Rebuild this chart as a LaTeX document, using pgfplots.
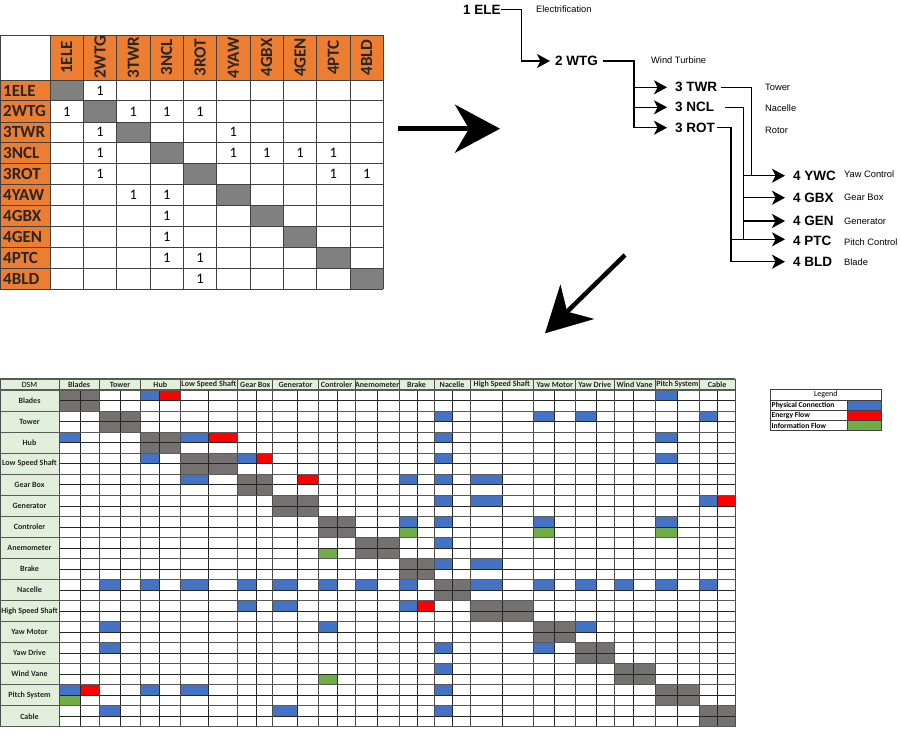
\documentclass[border=0pt]{standalone}
\usepackage{pgfplots}
\pgfplotsset{compat=1.18}
\usepackage{fontspec}
\setmainfont{Carlito}
\newfontfamily\arialf{Liberation Sans}
\usetikzlibrary{arrows.meta}
\definecolor{dblue}{HTML}{4472C4}
\definecolor{dred}{HTML}{FF0000}
\definecolor{dgreen}{HTML}{70AD47}
\definecolor{dgray}{HTML}{767171}
\definecolor{mgray}{HTML}{808080}
\definecolor{orng}{HTML}{ED7D31}
\definecolor{lgreen}{HTML}{E2EFDA}
\newcommand{\fs}[1]{\fontsize{#1bp}{#1bp}\selectfont}
\newcommand{\cell}[5]{\addplot[draw=none,fill=#1,forget plot] coordinates {(#2,#4) (#3,#4) (#3,#5) (#2,#5)};}
\tikzset{tarr/.style={line width=1.3bp, -{Stealth[length=13bp,width=14bp,inset=3.5bp]}},
  tln/.style={line width=1.3bp},
  tbold/.style={anchor=west, inner sep=0pt, font=\arialf\bfseries\fs{13.5}},
  tlab/.style={anchor=west, inner sep=0pt, font=\arialf\fs{9.3}},
  bigarr/.style={line width=4.5bp, -{Stealth[length=45bp,width=48bp,inset=14bp]}}}
\begin{document}
\begin{tikzpicture}
\begin{axis}[name=main, scale only axis, width=900bp, height=736bp,
  xmin=0, xmax=900, ymin=0, ymax=736, y dir=reverse, hide axis, clip=false]

% ================= top-left matrix =================
\cell{orng}{50}{383.3}{35}{80}
\cell{orng}{0}{50}{80}{289.3}
\cell{mgray}{50}{83.3}{80}{100.9}
\cell{mgray}{83.3}{116.7}{100.9}{121.9}
\cell{mgray}{116.7}{150}{121.9}{142.8}
\cell{mgray}{150}{183.3}{142.8}{163.7}
\cell{mgray}{183.3}{216.7}{163.7}{184.7}
\cell{mgray}{216.7}{250}{184.7}{205.6}
\cell{mgray}{250}{283.3}{205.6}{226.5}
\cell{mgray}{283.3}{316.7}{226.5}{247.4}
\cell{mgray}{316.7}{350}{247.4}{268.4}
\cell{mgray}{350}{383.3}{268.4}{289.3}
\pgfplotsinvokeforeach{0.5,50,83.3,116.7,150,183.3,216.7,250,283.3,316.7,350,383.3}{
  \draw[black!75, line width=0.8bp] (#1,35) -- (#1,289.3);}
\pgfplotsinvokeforeach{35,80,100.9,121.9,142.8,163.7,184.7,205.6,226.5,247.4,268.4,289.3}{
  \draw[black!75, line width=0.8bp] (0.5,#1) -- (383.3,#1);}
\foreach \n/\x in {1ELE/66.7,2WTG/100,3TWR/133.3,3NCL/166.7,3ROT/200,4YAW/233.3,4GBX/266.7,4GEN/300,4PTC/333.3,4BLD/366.7}{
  \edef\tmp{\noexpand\node[rotate=90, font=\noexpand\bfseries\noexpand\fs{17}, text=black!85] at (\x,57.5) {\n};}\tmp}
\foreach \n/\y in {1ELE/90.5,2WTG/111.4,3TWR/132.3,3NCL/153.3,3ROT/174.2,4YAW/195.1,4GBX/216.1,4GEN/237,4PTC/257.9,4BLD/278.8}{
  \edef\tmp{\noexpand\node[anchor=west, inner sep=0pt, font=\noexpand\bfseries\noexpand\fs{17}, text=black!85] at (3,\y) {\n};}\tmp}
\foreach \x/\y in {100/90.5, 66.7/111.4,133.3/111.4,166.7/111.4,200/111.4, 100/132.3,233.3/132.3,
  100/153.3,233.3/153.3,266.7/153.3,300/153.3,333.3/153.3, 100/174.2,333.3/174.2,366.7/174.2,
  133.3/195.1,166.7/195.1, 166.7/216.1, 166.7/237, 166.7/257.9,200/257.9, 200/278.8}{
  \edef\tmp{\noexpand\node[font=\noexpand\fs{14.5}] at (\x,\y) {1};}\tmp}

% ================= big arrows =================
\draw[bigarr] (398,128.7) -- (500,128.7);
\draw[bigarr] (625,255) -- (545,333.3);

% ================= tree =================
\draw[tarr] (501,9.5) -- (521.7,9.5) -- (521.7,61) -- (550,61);
\draw[tln] (602.7,61) -- (634,61) -- (634,127.7);
\draw[tarr] (634,87.3) -- (667,87.3);
\draw[tarr] (634,107.3) -- (667,107.3);
\draw[tarr] (634,127.7) -- (667,127.7);
\draw[tln] (721,87.3) -- (751.7,87.3) -- (751.7,175.7);
\draw[tln] (725,107.3) -- (743.3,107.3) -- (743.3,239.3);
\draw[tln] (716.7,127.7) -- (731,127.7) -- (731,261.7);
\draw[tarr] (743.3,175.7) -- (785,175.7);
\draw[tarr] (743.3,197.7) -- (785,197.7);
\draw[tarr] (743.3,221) -- (785,221);
\draw[tarr] (731,239.3) -- (785,239.3);
\draw[tarr] (731,261.7) -- (785,261.7);
\node[tbold] at (463,9.5) {1 ELE};
\node[tbold] at (555,61) {2 WTG};
\node[tbold] at (675,87.3) {3 TWR};
\node[tbold] at (675,107.3) {3 NCL};
\node[tbold] at (675,127.7) {3 ROT};
\node[tbold] at (793,175.7) {4 YWC};
\node[tbold] at (793,197.7) {4 GBX};
\node[tbold] at (793,221) {4 GEN};
\node[tbold] at (793,240.5) {4 PTC};
\node[tbold] at (793,261.7) {4 BLD};
\node[tlab] at (536,9.5) {Electrification};
\node[tlab] at (651,60.5) {Wind Turbine};
\node[tlab] at (765,87.3) {Tower};
\node[tlab] at (765,108) {Nacelle};
\node[tlab] at (765,130) {Rotor};
\node[tlab] at (844,174) {Yaw Control};
\node[tlab] at (844,197) {Gear Box};
\node[tlab] at (844,221.5) {Generator};
\node[tlab] at (844,242) {Pitch Control};
\node[tlab] at (844,262) {Blade};

% ================= DSM =================
\cell{lgreen}{0}{735}{379}{390}
\cell{lgreen}{0}{59}{390}{726.8}
% diagonal blocks
\cell{dgray}{59}{99.3}{390}{411.1}
\cell{dgray}{99.3}{140.7}{411.1}{432.1}
\cell{dgray}{140.7}{180}{432.1}{453.2}
\cell{dgray}{180}{237.7}{453.2}{474.2}
\cell{dgray}{237.7}{272.7}{474.2}{495.2}
\cell{dgray}{272.7}{318.3}{495.2}{516.3}
\cell{dgray}{318.3}{355}{516.3}{537.3}
\cell{dgray}{355}{399.3}{537.3}{558.4}
\cell{dgray}{399.3}{434}{558.4}{579.4}
\cell{dgray}{434}{470}{579.4}{600.5}
\cell{dgray}{470}{533.7}{600.5}{621.6}
\cell{dgray}{533.7}{575.7}{621.6}{642.6}
\cell{dgray}{575.7}{614}{642.6}{663.7}
\cell{dgray}{614}{655.3}{663.7}{684.7}
\cell{dgray}{655.3}{699.3}{684.7}{705.8}
\cell{dgray}{699.3}{735}{705.8}{726.8}
% row 0 Blades
\cell{dblue}{140.7}{159.7}{390}{400.5}
\cell{dred}{159.7}{180}{390}{400.5}
\cell{dblue}{655.3}{677.3}{390}{400.5}
% row 1 Tower
\cell{dblue}{434}{452.3}{411.1}{421.6}
\cell{dblue}{533.7}{554.3}{411.1}{421.6}
\cell{dblue}{575.7}{596}{411.1}{421.6}
\cell{dblue}{699.3}{717.7}{411.1}{421.6}
% row 2 Hub
\cell{dblue}{59}{80.7}{432.1}{442.6}
\cell{dblue}{180}{208}{432.1}{442.6}
\cell{dred}{208}{237.7}{432.1}{442.6}
\cell{dblue}{434}{452.3}{432.1}{442.6}
\cell{dblue}{655.3}{677.3}{432.1}{442.6}
% row 3 Low Speed Shaft
\cell{dblue}{140.7}{159.7}{453.2}{463.7}
\cell{dblue}{237.7}{256.3}{453.2}{463.7}
\cell{dred}{256.3}{272.7}{453.2}{463.7}
\cell{dblue}{434}{452.3}{453.2}{463.7}
\cell{dblue}{655.3}{677.3}{453.2}{463.7}
% row 4 Gear Box
\cell{dblue}{180}{208}{474.2}{484.7}
\cell{dred}{297.7}{318.3}{474.2}{484.7}
\cell{dblue}{399.3}{417}{474.2}{484.7}
\cell{dblue}{434}{452.3}{474.2}{484.7}
\cell{dblue}{470}{502.7}{474.2}{484.7}
% row 5 Generator
\cell{dblue}{434}{452.3}{495.2}{505.8}
\cell{dblue}{470}{502.7}{495.2}{505.8}
\cell{dblue}{699.3}{717.7}{495.2}{505.8}
\cell{dred}{717.7}{735}{495.2}{505.8}
% row 6 Controler
\cell{dblue}{399.3}{417}{516.3}{526.8}
\cell{dgreen}{399.3}{417}{526.8}{537.3}
\cell{dblue}{434}{452.3}{516.3}{526.8}
\cell{dblue}{533.7}{554.3}{516.3}{526.8}
\cell{dgreen}{533.7}{554.3}{526.8}{537.3}
\cell{dblue}{655.3}{677.3}{516.3}{526.8}
\cell{dgreen}{655.3}{677.3}{526.8}{537.3}
% row 7 Anemometer
\cell{dgreen}{318.3}{337.3}{547.9}{558.4}
\cell{dblue}{434}{452.3}{537.3}{547.9}
% row 8 Brake
\cell{dblue}{434}{452.3}{558.4}{568.9}
\cell{dblue}{470}{502.7}{558.4}{568.9}
% row 9 Nacelle
\cell{dblue}{99.3}{120.7}{579.4}{590}
\cell{dblue}{140.7}{159.7}{579.4}{590}
\cell{dblue}{180}{208}{579.4}{590}
\cell{dblue}{237.7}{256.3}{579.4}{590}
\cell{dblue}{272.7}{297.7}{579.4}{590}
\cell{dblue}{318.3}{337.3}{579.4}{590}
\cell{dblue}{355}{377.3}{579.4}{590}
\cell{dblue}{399.3}{417}{579.4}{590}
\cell{dblue}{470}{502.7}{579.4}{590}
\cell{dblue}{533.7}{554.3}{579.4}{590}
\cell{dblue}{575.7}{596}{579.4}{590}
\cell{dblue}{614}{633.3}{579.4}{590}
\cell{dblue}{655.3}{677.3}{579.4}{590}
\cell{dblue}{699.3}{717.7}{579.4}{590}
% row 10 High Speed Shaft
\cell{dblue}{237.7}{256.3}{600.5}{611}
\cell{dblue}{272.7}{297.7}{600.5}{611}
\cell{dblue}{399.3}{417}{600.5}{611}
\cell{dred}{417}{434}{600.5}{611}
% row 11 Yaw Motor
\cell{dblue}{99.3}{120.7}{621.6}{632.1}
\cell{dblue}{318.3}{337.3}{621.6}{632.1}
\cell{dblue}{575.7}{596}{621.6}{632.1}
% row 12 Yaw Drive
\cell{dblue}{99.3}{120.7}{642.6}{653.1}
\cell{dblue}{434}{452.3}{642.6}{653.1}
\cell{dblue}{533.7}{554.3}{642.6}{653.1}
% row 13 Wind Vane
\cell{dgreen}{318.3}{337.3}{674.2}{684.7}
\cell{dblue}{434}{452.3}{663.7}{674.2}
% row 14 Pitch System
\cell{dblue}{59}{80.7}{684.7}{695.2}
\cell{dred}{80.7}{99.3}{684.7}{695.2}
\cell{dgreen}{59}{80.7}{695.2}{705.8}
\cell{dblue}{140.7}{159.7}{684.7}{695.2}
\cell{dblue}{180}{208}{684.7}{695.2}
\cell{dblue}{434}{452.3}{684.7}{695.2}
% row 15 Cable
\cell{dblue}{99.3}{120.7}{705.8}{716.3}
\cell{dblue}{272.7}{297.7}{705.8}{716.3}
\cell{dblue}{434}{452.3}{705.8}{716.3}
% grid
\pgfplotsinvokeforeach{59,80.7,99.3,120.7,140.7,159.7,180,208,237.7,256.3,272.7,297.7,318.3,337.3,355,377.3,399.3,417,434,452.3,470,502.7,533.7,554.3,575.7,596,614,633.3,655.3,677.3,699.3,717.7,735}{
  \draw[black!85, line width=0.6bp] (#1,390) -- (#1,726.8);}
\pgfplotsinvokeforeach{400.5,421.6,442.6,463.7,484.7,505.8,526.8,547.9,568.9,590,611,632.1,653.1,674.2,695.2,716.3}{
  \draw[black!85, line width=0.6bp] (59,#1) -- (735,#1);}
\pgfplotsinvokeforeach{0.5,59,99.3,140.7,180,237.7,272.7,318.3,355,399.3,434,470,533.7,575.7,614,655.3,699.3,735}{
  \draw[black!70, line width=0.9bp] (#1,379) -- (#1,726.8);}
\pgfplotsinvokeforeach{379,390,411.1,432.1,453.2,474.2,495.2,516.3,537.3,558.4,579.4,600.5,621.6,642.6,663.7,684.7,705.8,726.8}{
  \draw[black!65, line width=1.2bp] (0.5,#1) -- (735,#1);}
\node[font=\fs{8}] at (29.5,384.6) {DSM};
\foreach \n/\x in {Blades/79.2,Tower/120,Hub/160.3,Low Speed Shaft/208.8,Gear Box/255.2,Generator/295.5,Controler/336.6,Anemometer/377.1,Brake/416.6,Nacelle/452,High Speed Shaft/501.8,Yaw Motor/554.7,Yaw Drive/594.8,Wind Vane/634.6,Pitch System/677.3,Cable/717.1}{
  \edef\tmp{\noexpand\node[inner sep=0pt, font=\noexpand\bfseries\noexpand\fs{8}, text=black!85] at (\x,384.6) {\n};}\tmp}
\foreach \n/\y in {Blades/400.5,Tower/421.6,Hub/442.6,Low Speed Shaft/463.7,Gear Box/484.7,Generator/505.8,Controler/526.8,Anemometer/547.9,Brake/568.9,Nacelle/590,High Speed Shaft/611,Yaw Motor/632.1,Yaw Drive/653.1,Wind Vane/674.2,Pitch System/695.2,Cable/716.3}{
  \edef\tmp{\noexpand\node[inner sep=0pt, font=\noexpand\bfseries\noexpand\fs{8}, text=black!85] at (29.5,\y) {\n};}\tmp}

% ================= legend =================
\cell{dblue}{847.3}{881.7}{400}{410.3}
\cell{dred}{847.3}{881.7}{410.3}{420.5}
\cell{dgreen}{847.3}{881.7}{420.5}{430.7}
\draw[black!75, line width=0.7bp] (770,389) rectangle (881.7,430.7);
\draw[black!75, line width=0.7bp] (770,400) -- (881.7,400);
\draw[black!75, line width=0.7bp] (770,410.3) -- (881.7,410.3);
\draw[black!75, line width=0.7bp] (770,420.5) -- (881.7,420.5);
\draw[black!75, line width=0.7bp] (847.3,400) -- (847.3,430.7);
\node[font=\fs{8}] at (825.8,394.6) {Legend};
\node[anchor=west, inner sep=0pt, font=\bfseries\fs{7.6}] at (771.5,405.2) {Physical Connection};
\node[anchor=west, inner sep=0pt, font=\bfseries\fs{7.6}] at (771.5,415.4) {Energy Flow};
\node[anchor=west, inner sep=0pt, font=\bfseries\fs{7.6}] at (771.5,425.6) {Information Flow};
\end{axis}
\pgfresetboundingbox
\path[use as bounding box] (main.south west) rectangle (main.north east);
\end{tikzpicture}
\end{document}
